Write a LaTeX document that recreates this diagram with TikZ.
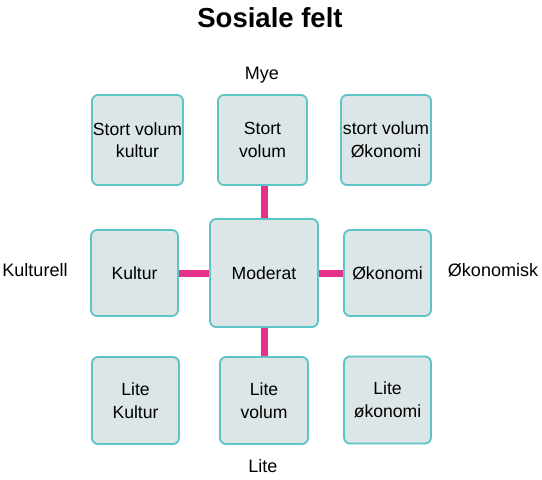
\documentclass[tikz,border=0pt]{standalone}
\usepackage{fontspec}
\setmainfont{Liberation Sans}
\definecolor{feltfill}{HTML}{DCE6E6}
\definecolor{feltdraw}{HTML}{5CC3C6}
\definecolor{feltpink}{HTML}{E6318A}
\usetikzlibrary{positioning}

\begin{document}
\begin{tikzpicture}[x=1pt, y=-1pt,
  felt/.style={rounded corners=6pt, draw=feltdraw, fill=feltfill, line width=1.8pt,
               align=center, inner sep=0pt, font=\fontsize{17.6}{22.5}\selectfont},
  akse/.style={font=\fontsize{18}{22}\selectfont},
  bro/.style={draw=feltpink, line width=7pt},
]
  \useasboundingbox (0,0) rectangle (542,480);
  \node[font=\fontsize{27.5}{32}\selectfont\bfseries] (tittel) at (270,18) {Sosiale felt};
  % akser
  \node[akse] (mye) at (262,75) {Mye};
  \node[akse] (lite) at (263,466) {Lite};
  \node[akse] (kulturell) at (35,270) {Kulturell};
  \node[akse] (okonomisk) at (493,270) {Økonomisk};
  % felt
  \node[felt, minimum width=91pt, minimum height=90pt] (svkultur) at (137.5,140) {Stort volum\\kultur};
  \node[felt, minimum width=89pt, minimum height=90pt] (svolum) at (262.5,140) {Stort\\volum};
  \node[felt, minimum width=90pt, minimum height=90pt] (svokonomi) at (386,140) {stort volum\\Økonomi};
  \node[felt, minimum width=87pt, minimum height=86pt] (kultur) at (134.5,273) {Kultur};
  \node[felt, minimum width=108pt, minimum height=108pt] (moderat) at (264,273) {Moderat};
  \node[felt, minimum width=87pt, minimum height=86pt] (okonomi) at (387.5,273) {Økonomi};
  \node[felt, minimum width=87pt, minimum height=87pt] (litekultur) at (135.5,400.5) {Lite\\Kultur};
  \node[felt, minimum width=88pt, minimum height=87pt] (litevolum) at (264,400.5) {Lite\\volum};
  \node[felt, minimum width=87pt, minimum height=87pt] (liteokonomi) at (387.5,400) {Lite\\økonomi};
  % broer
  \draw[bro] (moderat.north) -- (moderat.north |- svolum.south);
  \draw[bro] (moderat.south) -- (moderat.south |- litevolum.north);
  \draw[bro] (moderat.west) -- (moderat.west -| kultur.east);
  \draw[bro] (moderat.east) -- (moderat.east -| okonomi.west);
\end{tikzpicture}
\end{document}
